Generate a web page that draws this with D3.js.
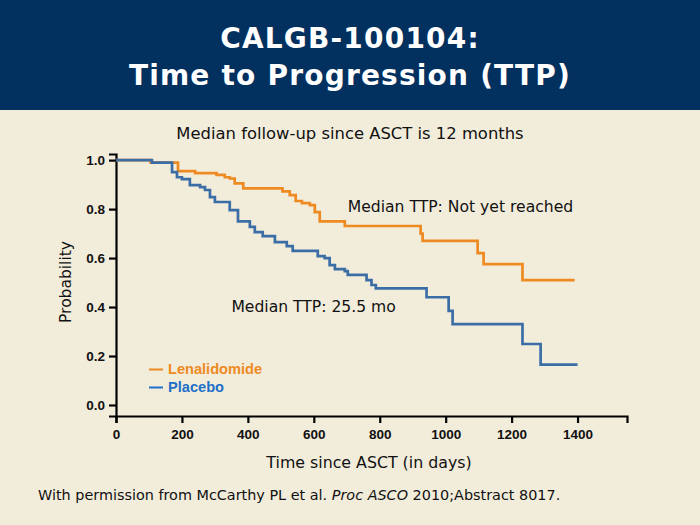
<!DOCTYPE html>
<html><head><meta charset="utf-8">
<script src="https://cdn.jsdelivr.net/npm/d3@7"></script>
<style>html,body{margin:0;padding:0;background:#F2ECDB;}svg{display:block;}</style>
</head><body><svg id="c" width="700" height="525"></svg>
<script>
const titleLines = ["CALGB-100104:", "Time to Progression (TTP)"];
const subtitle = "Median follow-up since ASCT is 12 months";
const seriesNames = ["Lenalidomide", "Placebo"];
const seriesColors = ["#EE8A22", "#3C6EA6"];
const legendColors = ["#EE8A22", "#2070C8"];
const lenaDays = [0, 105, 188, 240, 305, 330, 345, 360, 386, 505, 527, 545, 564, 588, 603, 618, 694, 924, 930, 1097, 1115, 1233, 1391];
const lenaProb = [1.0, 0.99, 0.955, 0.947, 0.94, 0.93, 0.925, 0.905, 0.885, 0.872, 0.857, 0.833, 0.824, 0.816, 0.788, 0.75, 0.731, 0.70, 0.67, 0.62, 0.575, 0.51, 0.51];
const placDays = [0, 109, 170, 185, 200, 224, 255, 270, 285, 300, 345, 370, 406, 421, 445, 482, 518, 536, 612, 633, 648, 664, 694, 703, 760, 775, 788, 942, 1009, 1021, 1233, 1288, 1400];
const placProb = [1.0, 0.99, 0.951, 0.93, 0.922, 0.898, 0.89, 0.878, 0.849, 0.829, 0.796, 0.75, 0.727, 0.706, 0.69, 0.665, 0.649, 0.629, 0.608, 0.6, 0.571, 0.555, 0.547, 0.531, 0.51, 0.49, 0.476, 0.44, 0.384, 0.33, 0.249, 0.165, 0.165];
const xTicks = [0, 200, 400, 600, 800, 1000, 1200, 1400];
const yTicks = [0.0, 0.2, 0.4, 0.6, 0.8, 1.0];
const annotations = [["Median TTP: Not yet reached", 703, 0.788], ["Median TTP: 25.5 mo", 350, 0.38]];

const svg = d3.select("#c");
svg.append("rect").attr("width",700).attr("height",525).attr("fill","#F2ECDB");
svg.append("rect").attr("width",700).attr("height",110).attr("fill","#02305F");
svg.append("text").attr("x",350).attr("text-anchor","middle")
  .attr("font-family","DejaVu Sans").attr("font-weight","bold").attr("font-size",28).attr("letter-spacing",1.2).attr("fill","#fff")
  .selectAll("tspan").data(titleLines).join("tspan").attr("x",350).attr("y",(d,i)=>48+i*36.5).text(d=>d);
svg.append("text").attr("x",350).attr("y",139).attr("text-anchor","middle")
  .attr("font-family","DejaVu Sans").attr("font-size",16.4).attr("fill","#111").text(subtitle);

const x = d3.scaleLinear().domain([0,1550]).range([116,627]);
const y = d3.scaleLinear().domain([-0.045,1.025]).range([416,154]);

const xa = svg.append("g").attr("transform","translate(0,416)")
  .call(d3.axisBottom(x).tickValues(xTicks).tickFormat(d3.format("d")).tickSizeOuter(0).tickSize(7).tickPadding(6));
const ya = svg.append("g").attr("transform","translate(116,0)")
  .call(d3.axisLeft(y).tickValues(yTicks).tickFormat(d3.format(".1f")).tickSizeOuter(0).tickSize(7).tickPadding(4));
[xa,ya].forEach(g=>{
  g.selectAll("path,line").attr("stroke","#000").attr("stroke-width",2.2);
  g.selectAll("text").attr("font-family","Liberation Sans").attr("font-weight","bold").attr("font-size",13.5).attr("fill","#111");
});

const line = d3.line().x(d=>x(d[0])).y(d=>y(d[1])).curve(d3.curveStepAfter);
const series = [d3.zip(lenaDays, lenaProb), d3.zip(placDays, placProb)];
svg.selectAll("path.km").data(series).join("path").attr("class","km")
  .attr("d",line).attr("fill","none").attr("stroke",(d,i)=>seriesColors[i]).attr("stroke-width",2.7);

svg.selectAll("text.ann").data(annotations).join("text").attr("class","ann")
  .attr("x",d=>x(d[1])).attr("y",d=>y(d[2])).attr("font-family","DejaVu Sans").attr("font-size",15.6).attr("fill","#111").text(d=>d[0]);

const lg = svg.selectAll("g.lg").data(seriesNames).join("g").attr("class","lg")
  .attr("transform",(d,i)=>`translate(148,${374+i*18})`);
lg.append("line").attr("x1",1).attr("x2",15).attr("y1",-4.5).attr("y2",-4.5).attr("stroke",(d,i)=>legendColors[i]).attr("stroke-width",2);
lg.append("text").attr("x",20).attr("y",0).attr("font-family","Liberation Sans").attr("font-weight","bold").attr("font-size",14.6)
  .attr("fill",(d,i)=>legendColors[i]).text(d=>d);

svg.append("text").attr("transform","translate(71,282) rotate(-90)").attr("text-anchor","middle")
  .attr("font-family","DejaVu Sans").attr("font-size",15.5).attr("fill","#111").text("Probability");
svg.append("text").attr("x",369).attr("y",468).attr("text-anchor","middle")
  .attr("font-family","DejaVu Sans").attr("font-size",15.8).attr("fill","#111").text("Time since ASCT (in days)");

const foot = svg.append("text").attr("x",38).attr("y",500).attr("font-family","DejaVu Sans").attr("font-size",14.4).attr("fill","#111");
foot.append("tspan").text("With permission from McCarthy PL et al. ");
foot.append("tspan").attr("font-style","italic").text("Proc ASCO");
foot.append("tspan").text(" 2010;Abstract 8017.");
</script></body></html>
